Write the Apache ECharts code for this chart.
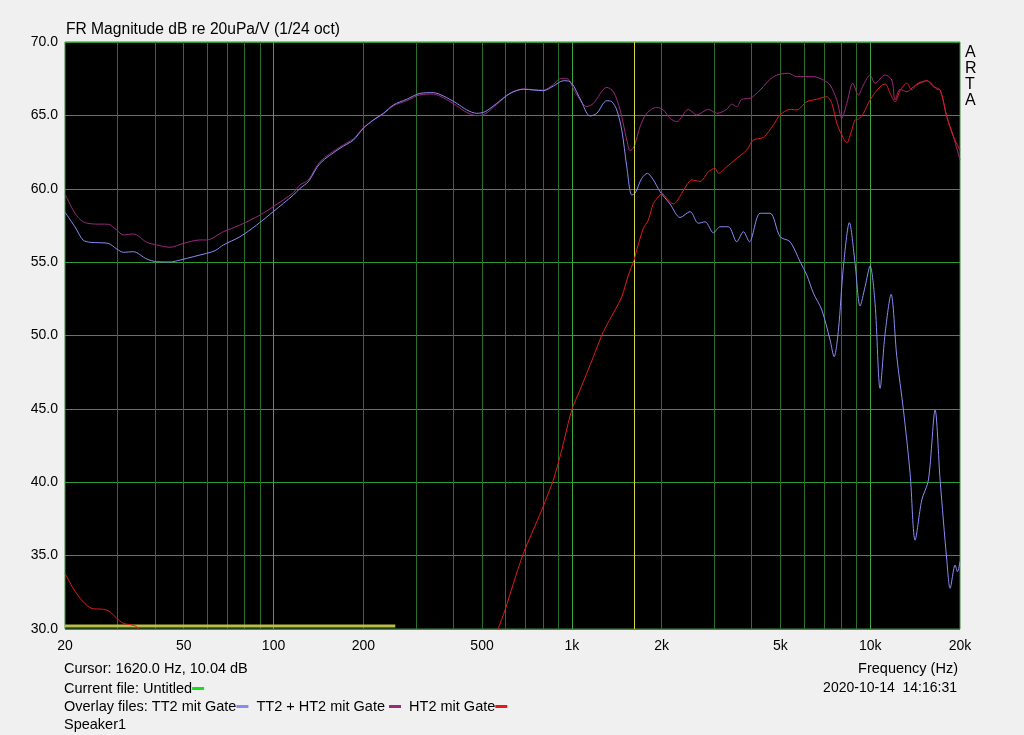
<!DOCTYPE html>
<html>
<head>
<meta charset="utf-8">
<script src="https://cdn.jsdelivr.net/npm/echarts@6/dist/echarts.min.js"></script>
<style>
html,body{margin:0;padding:0;background:#f0f0f0;}
#chart{width:1024px;height:735px;}
</style>
</head>
<body>
<div id="chart"></div>
<script>
// ---- Data (Hz, dB) ----
const blueFreq = [20,21.6,23.0,24.3,27.9,29.8,31.4,33.9,37.6,40.6,45.0,48.6,53.8,59.7,63.7,67.9,77.2,87.8,99.8,116.5,122.7,130.8,143.2,167.1,185.2,200,216,233.4,252.2,279.7,309.9,343.4,370.9,411.2,444.4,480,511.8,560,620.6,687.8,743,802,867,936,986,1065,1151,1212,1309,1361,1414,1470,1528,1588,1629,1715,1791,1876,1975,2134,2305,2490,2655,2796,2982,3139,3347,3571,3758,3936,4277,4617,4989,5388,5821,6130,6452,6884,7338,7569,7825,8133,8517,8898,9249,9616,9990,10384,10791,11220,11750,12280,12925,13607,14144,14892,15673,16504,17155,18064,18532,19263,19609,20000];
const blueDb = [58.4,57.4,56.5,56.35,56.28,55.9,55.67,55.71,55.21,55.03,55.01,55.14,55.37,55.6,55.78,56.17,56.73,57.53,58.44,59.57,60.03,60.48,61.73,62.76,63.32,64.12,64.68,65.14,65.71,66.1,66.5,66.55,66.32,65.82,65.37,65.14,65.25,65.82,66.5,66.78,66.73,66.68,67.0,67.36,67.3,66.15,64.96,65.14,66.0,65.93,65.37,64.0,61.5,59.57,59.69,60.71,61.05,60.6,59.8,58.96,58.04,58.44,57.65,57.75,57.0,57.41,57.41,56.39,57.07,56.39,58.33,58.33,56.73,56.39,55.03,54.12,52.88,51.74,49.69,48.55,50.37,54.69,57.69,54.92,52.01,53.33,54.74,52.19,46.4,50.15,52.81,48.55,44.92,40.61,36.06,38.79,40.15,44.92,40.15,34.7,32.77,34.36,33.9,34.59];

const purpleFreq = [20,21.6,23.0,24.9,27.9,29.8,31.4,33.9,37.6,40.6,45.0,49.9,56.7,59.7,67.9,77.2,90.1,99.8,116.5,122.7,130.8,143.2,167.1,185.2,200,216,233.4,252.2,279.7,309.9,343.4,370.9,411.2,444.4,480,511.8,560,620.6,687.8,743,802,867,913,962,1025,1122,1181,1309,1378,1451,1528,1567,1616,1693,1783,1926,2026,2134,2247,2458,2622,2869,3060,3306,3436,3571,3712,3957,4277,4736,5319,5676,6452,6970,7338,7728,8034,8349,8742,9128,9489,9990,10384,11220,11816,12118,12599,13268,13960,14698,15479,16288,17155,18064,19012,20000];
const purpleDb = [59.64,58.33,57.75,57.6,57.58,57.19,56.85,56.92,56.35,56.17,56.01,56.28,56.51,56.51,57.07,57.53,58.21,58.78,59.73,60.26,60.6,61.85,62.85,63.4,64.15,64.68,65.1,65.65,66.0,66.4,66.45,66.2,65.65,65.2,64.98,65.1,65.75,66.5,66.8,66.75,66.72,67.1,67.5,67.5,66.61,65.59,65.82,66.91,66.61,65.37,63.32,62.6,62.87,64.23,65.14,65.55,65.37,64.8,64.57,65.41,65.03,65.41,65.14,65.41,65.77,65.59,66.1,66.16,66.73,67.64,67.87,67.64,67.64,67.41,67.07,66.05,64.8,65.82,67.19,66.39,67.07,67.75,67.19,67.75,67.41,66.05,66.78,66.61,66.95,67.19,67.36,66.95,66.73,64.91,63.55,61.96];

const redFreq = [20,21.3,23.0,24.6,26.9,28.3,29.8,31.4,33.5,34.8,36.5,100,540,567,597,637,688,734,793,834,867,925,999,1065,1181,1275,1396,1470,1547,1616,1650,1736,1805,1876,1975,2001,2080,2189,2336,2428,2523,2690,2869,3020,3098,3306,3571,3858,4058,4386,4736,4989,5388,5676,6130,6622,7155,7435,7728,8034,8349,8676,8898,9128,9489,9990,10791,11220,11663,12118,12599,13268,13788,14331,15479,16722,17155,18064,19012,20000];
const redDb = [33.8,32.77,31.86,31.4,31.34,31.18,30.73,30.39,30.27,30.15,29.6,null,29.0,30.05,31.29,33.11,35.16,36.52,38.11,39.25,40.15,42.2,44.92,46.29,48.55,50.26,51.74,52.64,54.12,55.14,55.83,57.3,57.87,59.0,59.57,59.69,59.35,58.96,59.69,60.26,60.6,60.5,61.16,61.39,61.05,61.5,62.07,62.64,63.32,63.5,64.34,65.03,65.41,65.37,65.93,66.1,66.27,65.82,64.46,63.66,63.14,64.0,64.68,64.73,65.14,66.05,66.95,67.14,66.5,65.93,66.68,67.19,66.73,67.14,67.36,66.78,66.73,64.91,63.55,62.64];

// current file trace (flat line near the bottom)
const currentFreq = [20, 256];
const currentDb = [30.2, 30.2];

const cursorFreq = 1620;
const xTickValues = [20,50,100,200,500,1000,2000,5000,10000,20000];
const xTickLabels = ['20','50','100','200','500','1k','2k','5k','10k','20k'];
const gridMinor = [30,40,50,60,70,80,90,200,300,400,500,600,700,800,900,2000,3000,4000,5000,6000,7000,8000,9000];
const gridMajor = [100,1000,10000];

const pairs = (f, d) => f.map((v, i) => [v, d[i] === null ? '-' : d[i]]);

const chart = echarts.init(document.getElementById('chart'), null, {renderer: 'canvas'});
const font = 'Liberation Sans, Arial, sans-serif';

const labelFmt = v => { const i = xTickValues.findIndex(t => Math.abs(t - v) / t < 1e-6); return i >= 0 ? xTickLabels[i] : ''; };

chart.setOption({
  animation: false,
  backgroundColor: '#f0f0f0',
  grid: {left: 65, top: 42, width: 895, height: 587, show: true, backgroundColor: '#000000', borderColor: '#3c8c3c', borderWidth: 1},
  xAxis: [
    {
      type: 'log', logBase: 10, min: 20, max: 20000, position: 'bottom',
      axisLine: {show: false},
      axisTick: {show: false, customValues: gridMinor},
      splitLine: {show: true, lineStyle: {color: '#2a702a', width: 1}},
      minorSplitLine: {show: false},
      axisLabel: {customValues: xTickValues, formatter: labelFmt, color: '#000', fontFamily: font, fontSize: 14, margin: 10}
    },
    {
      type: 'log', logBase: 10, min: 20, max: 20000, position: 'bottom',
      axisLine: {show: false},
      axisTick: {show: false, customValues: gridMajor},
      splitLine: {show: true, lineStyle: {color: '#3ea63e', width: 1}},
      minorSplitLine: {show: false},
      axisLabel: {show: false}
    }
  ],
  yAxis: {
    type: 'value', min: 30, max: 70, interval: 5,
    axisLine: {show: false}, axisTick: {show: false},
    splitLine: {show: true, lineStyle: {color: '#2f9a2f', width: 1}},
    axisLabel: {formatter: v => v.toFixed(1), color: '#000', fontFamily: font, fontSize: 14, margin: 7}
  },
  series: [
    {name: 'Untitled', type: 'line', data: pairs(currentFreq, currentDb), showSymbol: false, z: 2,
      lineStyle: {color: '#bcbc48', width: 3}},
    {name: 'cursor', type: 'line', data: [], z: 2, silent: true,
      markLine: {silent: true, symbol: ['none', 'none'], label: {show: false}, animation: false,
        lineStyle: {color: '#d8d840', width: 1, type: 'solid', opacity: 1},
        data: [{xAxis: cursorFreq}]}},
    {name: 'TT2 + HT2 mit Gate', type: 'line', data: pairs(purpleFreq, purpleDb), showSymbol: false, smooth: 0.3, z: 3,
      lineStyle: {color: '#9a2a7a', width: 1}},
    {name: 'TT2 mit Gate', type: 'line', data: pairs(blueFreq, blueDb), showSymbol: false, smooth: 0.3, z: 4,
      lineStyle: {color: '#8a8af5', width: 1}},
    {name: 'HT2 mit Gate', type: 'line', data: pairs(redFreq, redDb), showSymbol: false, smooth: 0.3, z: 5, connectNulls: false,
      lineStyle: {color: '#e01c1c', width: 1}}
  ],
  graphic: [
    {type: 'text', left: 66, top: 22, style: {text: 'FR Magnitude dB re 20uPa/V (1/24 oct)', font: '15.6px ' + font, fill: '#000'}},
    {type: 'text', left: 965, top: 45, style: {text: 'A\nR\nT\nA', font: '16px ' + font, fill: '#000', lineHeight: 16, align: 'left'}},
    {type: 'text', left: 64, top: 661, style: {text: 'Cursor: 1620.0 Hz, 10.04 dB', font: '14.5px ' + font, fill: '#000'}},
    {type: 'text', left: 64, top: 681, style: {
      text: 'Current file: Untitled{g|}', font: '14.5px ' + font, fill: '#000',
      rich: {g: {width: 12, height: 3, backgroundColor: '#18e018', verticalAlign: 'middle'}}}},
    {type: 'text', left: 64, top: 699, style: {
      text: 'Overlay files: TT2 mit Gate{b|}  TT2 + HT2 mit Gate {p|}  HT2 mit Gate{r|}', font: '14.5px ' + font, fill: '#000',
      rich: {
        b: {width: 12, height: 3, backgroundColor: '#8a8af5', verticalAlign: 'middle'},
        p: {width: 12, height: 3, backgroundColor: '#9a2a7a', verticalAlign: 'middle'},
        r: {width: 12, height: 3, backgroundColor: '#e81818', verticalAlign: 'middle'}
      }}},
    {type: 'text', left: 64, top: 717, style: {text: 'Speaker1', font: '14.5px ' + font, fill: '#000'}},
    {type: 'text', right: 66, top: 661, style: {text: 'Frequency (Hz)', font: '14.5px ' + font, fill: '#000', align: 'right'}},
    {type: 'text', right: 67, top: 681, style: {text: '2020-10-14  14:16:31', font: '14px ' + font, fill: '#000', align: 'right'}}
  ]
});
</script>
</body>
</html>
